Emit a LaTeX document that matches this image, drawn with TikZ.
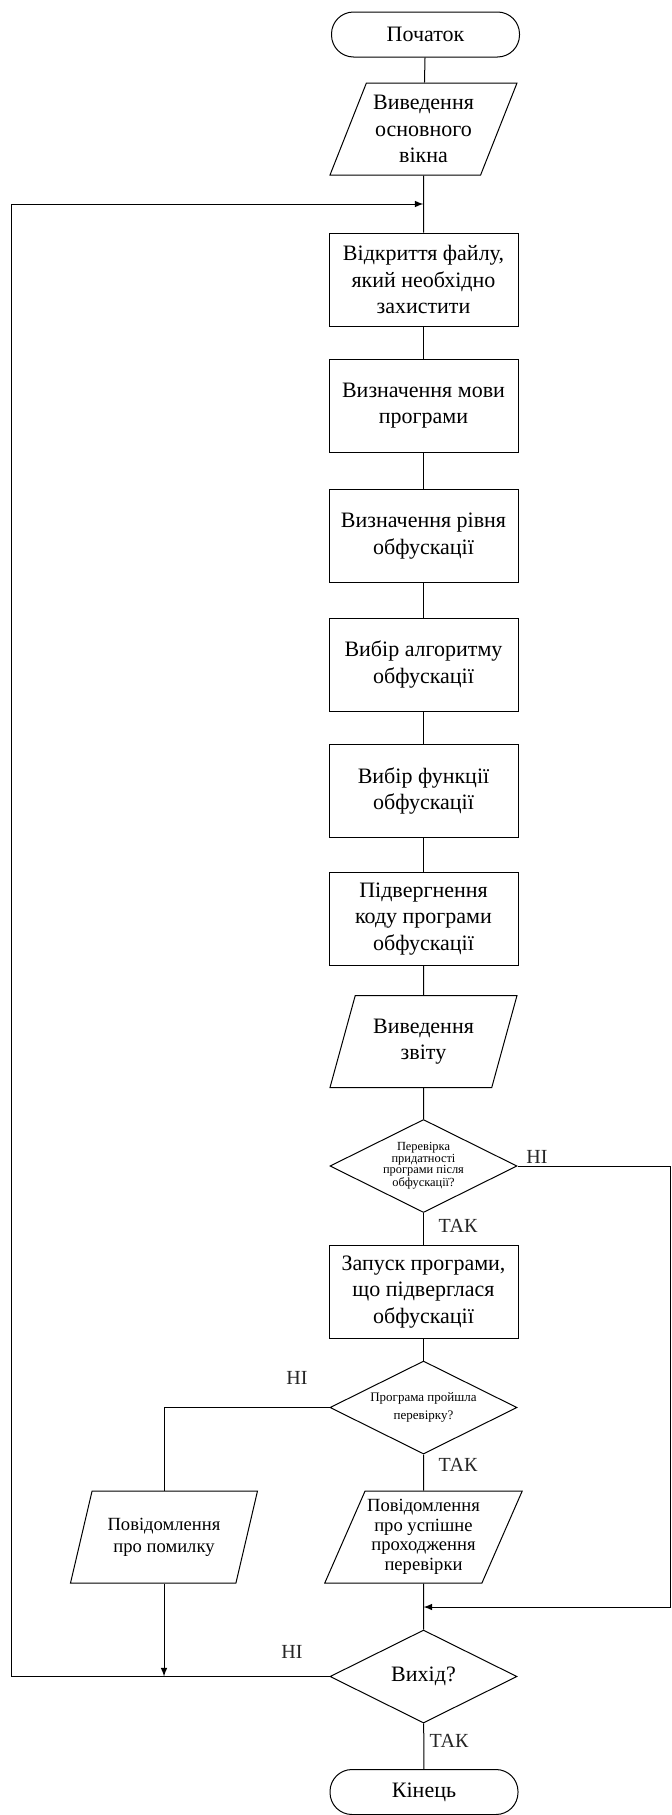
\documentclass[tikz,border=0pt]{standalone}
\usepackage{fontspec}
\setmainfont{Liberation Serif}
\usetikzlibrary{shapes.geometric}
\tikzstyle{arrow} = [->, >=latex]
\tikzset{block/.style={draw, rectangle, minimum width=94.5pt, minimum height=46.5pt,
        inner sep=1pt, align=center, font=\fontsize{11}{13.2}\selectfont},
    io/.style={draw, trapezium, trapezium left angle=63, trapezium right angle=117,
        trapezium stretches body, minimum width=93.5pt, minimum height=46pt,
        inner sep=1pt, align=center, font=\fontsize{11}{13.2}\selectfont},
    decision/.style={draw, diamond, aspect=2, minimum width=93.5pt, minimum height=46.5pt,
        inner sep=0pt, align=center},
    terminal/.style={draw, rectangle, rounded corners=11pt, minimum width=94pt,
        minimum height=22.5pt, font=\fontsize{11}{13.2}\selectfont},
    answer/.style={font=\fontsize{10}{12}\selectfont, text=black!85}}

\begin{document}
\begin{tikzpicture}[x=0.5pt, y=-0.5pt, line width=0.5pt]
    \useasboundingbox (0,0) rectangle (672,1815);
    % Main column
    \node[terminal] (start) at (425.5,34.5) {Початок};
    \node[io] (showwin) at (423.5,129) {Виведення\\основного\\вікна};
    \node[block] (openfile) at (423.5,279.5) {Відкриття файлу,\\який необхідно\\захистити};
    \node[block] (lang) at (423.5,405.5) {Визначення мови\\програми};
    \node[block] (level) at (423.5,536) {Визначення рівня\\обфускації};
    \node[block] (algo) at (423.5,664.5) {Вибір алгоритму\\обфускації};
    \node[block] (func) at (423.5,791) {Вибір функції\\обфускації};
    \node[block] (apply) at (423.5,919) {Підвергнення\\коду програми\\обфускації};
    \node[io] (report) at (423.5,1041.5) {Виведення\\звіту};
    \node[decision, font=\fontsize{6.2}{5.6}\selectfont] (valid) at (423.5,1166)
        {Перевірка\\придатності\\програми після\\обфускації?};
    \node[block] (run) at (423.5,1292) {Запуск програми,\\що підверглася\\обфускації};
    \node[decision, font=\fontsize{6.5}{8.8}\selectfont] (passed) at (423.5,1407.5)
        {Програма пройшла\\перевірку?};
    \node[io, font=\fontsize{9.3}{9.8}\selectfont] (okmsg) at (423.5,1537)
        {Повідомлення\\про успішне\\проходження\\перевірки};
    \node[io, font=\fontsize{9.3}{11}\selectfont] (errmsg) at (164,1537) {Повідомлення\\про помилку};
    \node[decision, font=\fontsize{11}{13.2}\selectfont] (quit) at (423.5,1676.5) {Вихід?};
    \node[terminal] (finish) at (424,1792) {Кінець};
    % Answers
    \node[answer] (no1) at (537,1157) {НІ};
    \node[answer] (yes1) at (458,1226) {ТАК};
    \node[answer] (no2) at (297,1378) {НІ};
    \node[answer] (yes2) at (458,1465) {ТАК};
    \node[answer] (no3) at (292,1652) {НІ};
    \node[answer] (yes3) at (449,1741) {ТАК};
    % Joins
    \coordinate (join1) at (423.5,204);
    \coordinate (join2) at (423.5,1607);
    \coordinate (leftrail) at (11,0);
    \coordinate (rightrail) at (670,0);
    % Connectors
    \draw (start) -- (showwin);
    \draw (showwin) -- (openfile);
    \draw (openfile) -- (lang);
    \draw (lang) -- (level);
    \draw (level) -- (algo);
    \draw (algo) -- (func);
    \draw (func) -- (apply);
    \draw (apply) -- (report);
    \draw (report) -- (valid);
    \draw (valid) -- (run);
    \draw (run) -- (passed);
    \draw (passed) -- (okmsg);
    \draw (okmsg) -- (quit);
    \draw (quit) -- (finish);
    \draw (passed.west) -| (errmsg.north);
    \draw[arrow] (errmsg.south) -- (errmsg.south |- quit.west);
    \draw[arrow] (quit.west) -- (quit.west -| leftrail) |- (join1);
    \draw[arrow] (valid.east) -- (valid.east -| rightrail) |- (join2);
\end{tikzpicture}
\end{document}
